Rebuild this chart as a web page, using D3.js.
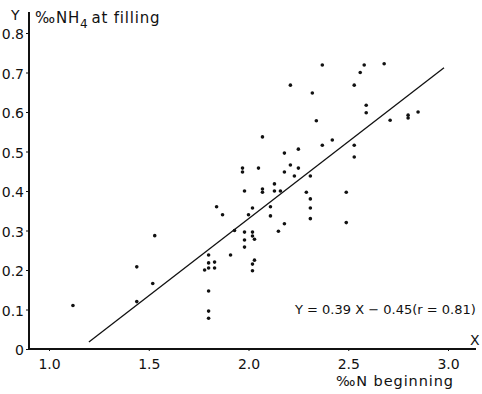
<!DOCTYPE html>
<html>
<head>
<meta charset="utf-8">
<script src="https://cdn.jsdelivr.net/npm/d3@7"></script>
<style>
  body { margin: 0; background: #fff; }
  svg text { font-family: 'DejaVu Sans', sans-serif; fill: #111; }
</style>
</head>
<body>
<div class="visContainer"></div>
<script>
const w = 482;
const h = 394;

// data
const xVals = [1.12, 1.44, 1.44, 1.52, 1.53, 1.78, 1.80, 1.80, 1.83, 1.80, 1.83, 1.80, 1.80, 1.80,
  1.84, 1.87, 1.91, 1.93, 1.97, 1.97, 1.98, 1.98, 1.98, 1.98, 2.00, 2.02, 2.02, 2.02, 2.03, 2.03,
  2.02, 2.02, 2.05, 2.07, 2.07, 2.07, 2.11, 2.11, 2.13, 2.13, 2.16, 2.15, 2.18, 2.18, 2.18, 2.21,
  2.21, 2.23, 2.25, 2.25, 2.29, 2.31, 2.31, 2.31, 2.31, 2.32, 2.34, 2.37, 2.37, 2.42, 2.49, 2.49,
  2.53, 2.53, 2.53, 2.56, 2.58, 2.59, 2.59, 2.68, 2.71, 2.80, 2.80, 2.85];
const yVals = [0.11, 0.208, 0.12, 0.166, 0.287, 0.20, 0.238, 0.218, 0.22, 0.205, 0.205, 0.147, 0.096, 0.078,
  0.36, 0.34, 0.238, 0.30, 0.458, 0.448, 0.40, 0.296, 0.276, 0.258, 0.34, 0.357, 0.296, 0.286, 0.278, 0.225,
  0.215, 0.198, 0.458, 0.537, 0.405, 0.397, 0.36, 0.337, 0.418, 0.40, 0.40, 0.298, 0.317, 0.496, 0.448, 0.466,
  0.668, 0.438, 0.506, 0.458, 0.397, 0.438, 0.38, 0.357, 0.33, 0.648, 0.578, 0.719, 0.516, 0.529, 0.397, 0.32,
  0.668, 0.516, 0.486, 0.70, 0.719, 0.617, 0.598, 0.722, 0.579, 0.592, 0.585, 0.60];
const xTicks = [1.0, 1.5, 2.0, 2.5, 3.0];
const yTicks = [0, 0.1, 0.2, 0.3, 0.4, 0.5, 0.6, 0.7, 0.8];
const fitSlope = 0.39;
const fitIntercept = -0.45;
const fitRange = [1.2, 2.98];

const svg = d3.select('.visContainer').append('svg')
  .attr('width', w).attr('height', h);

const xScale = d3.scaleLinear().domain([1.0, 3.0]).range([49, 448]);
const yScale = d3.scaleLinear().domain([0, 0.8]).range([349, 33]);

// axes, drawn as plain lines like the old plot
svg.append('line')
  .attr('x1', 29).attr('x2', 29).attr('y1', 12).attr('y2', 350)
  .attr('stroke', '#111').attr('stroke-width', 2);
svg.append('line')
  .attr('x1', 28).attr('x2', 476).attr('y1', 349).attr('y2', 349)
  .attr('stroke', '#111').attr('stroke-width', 2);

const yAxis = d3.axisLeft(yScale).tickValues(yTicks).tickSize(3).tickPadding(2)
  .tickFormat((d) => d === 0 ? '0' : d3.format('.1f')(d));
const yAxisGroup = svg.append('g').attr('transform', 'translate(29, 0)').call(yAxis);
yAxisGroup.select('.domain').remove();
yAxisGroup.selectAll('text').style('font-size', '14px').attr('dy', '0.4em');
yAxisGroup.selectAll('line').attr('stroke', '#111');

const xAxis = d3.axisBottom(xScale).tickValues(xTicks).tickSize(2).tickPadding(8)
  .tickFormat(d3.format('.1f'));
const xAxisGroup = svg.append('g').attr('transform', 'translate(0, 349)').call(xAxis);
xAxisGroup.select('.domain').remove();
xAxisGroup.selectAll('text').style('font-size', '14px');
xAxisGroup.selectAll('line').attr('stroke', '#111');

// regression line
svg.append('line')
  .attr('x1', xScale(fitRange[0])).attr('y1', yScale(fitSlope * fitRange[0] + fitIntercept))
  .attr('x2', xScale(fitRange[1])).attr('y2', yScale(fitSlope * fitRange[1] + fitIntercept))
  .attr('stroke', '#111').attr('stroke-width', 1.3);

// points
svg.selectAll('circle')
  .data(xVals)
  .enter()
  .append('circle')
  .attr('cx', (d) => xScale(d))
  .attr('cy', (d, i) => yScale(yVals[i]))
  .attr('r', 1.8)
  .style('fill', '#111');

// labels
svg.append('text').attr('x', 11).attr('y', 20).style('font-size', '14px').text('Y');
const yLab = svg.append('text').attr('x', 35).attr('y', 23)
  .style('font-size', '15px').style('letter-spacing', '0.8px');
yLab.append('tspan').text('‰NH');
yLab.append('tspan').attr('dy', 5).style('font-size', '12px').text('4');
yLab.append('tspan').attr('dy', -5).attr('dx', 3).text('at  filling');

svg.append('text').attr('x', 470).attr('y', 345).style('font-size', '14px').text('X');
svg.append('text').attr('x', 336).attr('y', 386)
  .style('font-size', '14.5px').style('letter-spacing', '0.9px')
  .text('‰N  beginning');

svg.append('text').attr('x', 295).attr('y', 314).style('font-size', '13px')
  .text('Y = 0.39 X  − 0.45(r = 0.81)');
</script>
</body>
</html>
